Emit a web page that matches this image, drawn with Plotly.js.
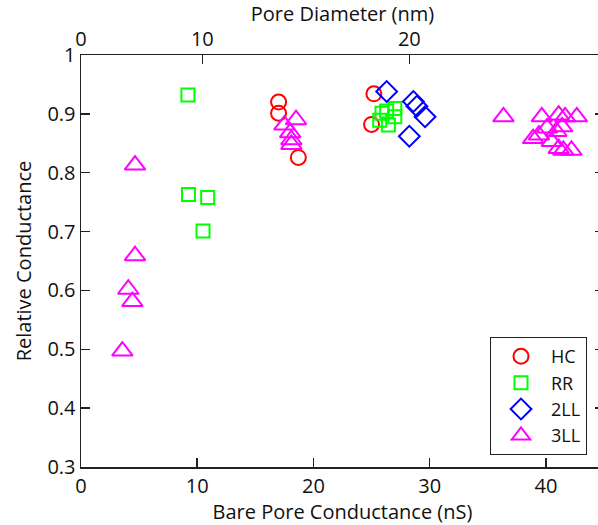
<!DOCTYPE html>
<html>
<head>
<meta charset="utf-8">
<script src="https://cdn.plot.ly/plotly-3.0.1.min.js"></script>
<style>html,body{margin:0;padding:0;overflow:hidden;background:#fff;}</style>
</head>
<body>
<div id="chart"></div>
<script>
// Bare pore conductance (nS) and relative conductance, per coating
const hcX = [17.0, 17.0, 18.7, 25.2, 25.0];
const hcY = [0.920, 0.901, 0.826, 0.934, 0.882];

const rrX = [9.2, 9.25, 10.9, 10.5, 25.9, 27.0, 27.0, 26.45, 25.7, 26.3];
const rrY = [0.932, 0.763, 0.758, 0.701, 0.901, 0.909, 0.895, 0.881, 0.889, 0.905];

const ll2X = [26.3, 28.6, 28.9, 29.6, 28.25];
const ll2Y = [0.938, 0.921, 0.913, 0.895, 0.862];

const ll3X = [4.65, 4.65, 4.07, 4.42, 3.56, 18.5, 17.5, 18.0, 18.1, 18.1,
              36.35, 39.65, 41.1, 41.65, 42.66, 38.9, 39.4, 40.5, 41.1, 41.5, 42.2, 40.9, 40.1, 41.4];
const ll3Y = [0.813, 0.659, 0.602, 0.581, 0.497, 0.890, 0.881, 0.868, 0.856, 0.848,
              0.895, 0.895, 0.898, 0.895, 0.895, 0.858, 0.864, 0.853, 0.841, 0.838, 0.838, 0.870, 0.876, 0.878];

// Top axis: pore diameter ticks placed at their equivalent bare conductance
const diamTickPos = [0, 10.44, 28.25];
const diamTickText = ['0', '10', '20'];

const xTicks = [0, 10, 20, 30, 40];

const FONT = 'Open Sans, sans-serif';
const FS = 20;

function tr(name, x, y, symbol, color, size) {
  return {
    type: 'scatter', mode: 'markers', name: name, x: x, y: y,
    marker: {symbol: symbol, size: size, color: color, line: {color: color, width: 2}},
    hoverinfo: 'x+y'
  };
}

const data = [
  tr('HC', hcX, hcY, 'circle-open', '#ff0000', 15),
  tr('RR', rrX, rrY, 'square-open', '#00ff00', 13),
  tr('2LL', ll2X, ll2Y, 'diamond-open', '#0000ff', 16),
  tr('3LL', ll3X, ll3Y, 'triangle-up-open', '#ff00ff', 18),
  {type: 'scatter', mode: 'markers', x: [0], y: [0.3], xaxis: 'x2', yaxis: 'y',
   marker: {opacity: 0}, showlegend: false, hoverinfo: 'skip'}
];

const layout = {
  width: 604, height: 525,
  margin: {l: 81, r: 0, t: 55, b: 58},
  paper_bgcolor: '#fff', plot_bgcolor: '#fff',
  font: {family: FONT, size: FS, color: '#111'},
  showlegend: true,
  legend: {
    x: 0.9675, y: 0.029, xanchor: 'right', yanchor: 'bottom',
    bgcolor: '#fff', bordercolor: '#222', borderwidth: 1,
    font: {family: FONT, size: 18, color: '#111'},
    tracegroupgap: 0, itemwidth: 50
  },
  xaxis: {
    range: [0, 45], tickvals: xTicks, ticks: 'inside', ticklen: 9, tickwidth: 1.5, tickcolor: '#222',
    showline: true, linecolor: '#222', linewidth: 1.5, mirror: false,
    showgrid: false, zeroline: false,
    title: {text: 'Bare Pore Conductance (nS)', font: {family: FONT, size: FS}, standoff: 2}
  },
  xaxis2: {
    overlaying: 'x', side: 'top', range: [0, 45],
    tickvals: diamTickPos, ticktext: diamTickText,
    ticks: 'inside', ticklen: 9, tickwidth: 1.5, tickcolor: '#222',
    showline: true, linecolor: '#222', linewidth: 1.5,
    showgrid: false, zeroline: false,
    title: {text: 'Pore Diameter (nm)', font: {family: FONT, size: FS}, standoff: 4}
  },
  yaxis: {
    range: [0.3, 1], dtick: 0.1, ticks: 'inside', ticklen: 9, tickwidth: 1.5, tickcolor: '#222',
    showline: true, linecolor: '#222', linewidth: 1.5, mirror: 'ticks',
    showgrid: false, zeroline: false,
    title: {text: 'Relative Conductance', font: {family: FONT, size: FS}, standoff: 10}
  }
};

Plotly.newPlot('chart', data, layout, {displayModeBar: false, staticPlot: true});
</script>
</body>
</html>
